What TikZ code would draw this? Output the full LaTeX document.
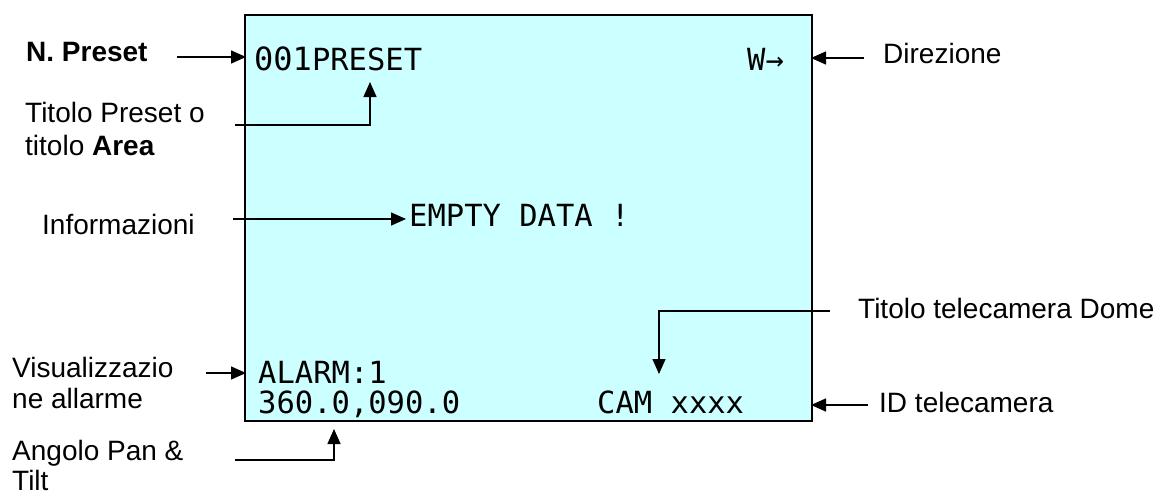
\documentclass[tikz,border=0pt]{standalone}
\usepackage{fontspec}
\setmainfont{Liberation Sans}
\newfontfamily\screenfont{DejaVu Sans Mono}
\usetikzlibrary{arrows.meta}
\definecolor{screen}{HTML}{CCFFFF}
\begin{document}
\begin{tikzpicture}[x=1pt,y=-1pt,
  lbl/.style={anchor=base west,inner sep=0pt,font=\fontsize{28}{33}\selectfont},
  scr/.style={anchor=base west,inner sep=0pt,font=\screenfont\fontsize{30.5}{34}\selectfont},
  conn/.style={line width=1.5pt,-{Triangle[length=15pt,width=13pt]}}]
\useasboundingbox (0,0) rectangle (1159,496);
% screen box
\draw[fill=screen,line width=2.5pt] (245,15) rectangle (812,421);
% screen texts
\node[scr] (t001) at (254,70) {{\fontsize{32}{34}\selectfont 001}PRESET};
\node[scr] (tdir) at (747,70) {W→};
\node[scr] (tempty) at (409,226) {EMPTY DATA !};
\node[scr] (talarm) at (258,383) {ALARM:1};
\node[scr] (tpan) at (258,413) {360.0,090.0};
\node[scr] (tcam) at (597,413) {CAM xxxx};
% labels
\node[lbl] (lnpreset) at (26,61) {\bfseries N. Preset};
\node[lbl] (ltit1) at (25,122) {Titolo Preset o};
\node[lbl] (ltit2) at (25,155) {titolo \textbf{Area}};
\node[lbl] (linfo) at (42,234) {Informazioni};
\node[lbl] (lvis1) at (12,377) {Visualizzazio};
\node[lbl] (lvis2) at (12,408) {ne allarme};
\node[lbl] (lang1) at (12,460) {Angolo Pan \&};
\node[lbl] (lang2) at (12,490) {Tilt};
\node[lbl] (ldir) at (883,63) {Direzione};
\node[lbl] (ldome) at (858,318) {Titolo telecamera Dome};
\node[lbl] (lid) at (879,412) {ID telecamera};
% connector end points
\coordinate (a1s) at (177,57);  \coordinate (a1e) at (246,57);
\coordinate (a2s) at (235,125); \coordinate (a2c) at (370,125); \coordinate (a2e) at (370,82);
\coordinate (a3s) at (233,219); \coordinate (a3e) at (406,219);
\coordinate (a4s) at (206,373); \coordinate (a4e) at (246,373);
\coordinate (a5s) at (235,460); \coordinate (a5c) at (334,460); \coordinate (a5e) at (334,429);
\coordinate (a6s) at (864,58);  \coordinate (a6e) at (811,58);
\coordinate (a7s) at (830,311); \coordinate (a7c) at (659,311); \coordinate (a7e) at (659,374);
\coordinate (a8s) at (868,405); \coordinate (a8e) at (811,405);
% connectors
\draw[conn] (a1s) -- (a1e);
\draw[conn] (a2s) -- (a2c) -- (a2e);
\draw[conn] (a3s) -- (a3e);
\draw[conn] (a4s) -- (a4e);
\draw[conn] (a5s) -- (a5c) -- (a5e);
\draw[conn] (a6s) -- (a6e);
\draw[conn] (a7s) -- (a7c) -- (a7e);
\draw[conn] (a8s) -- (a8e);
\end{tikzpicture}
\end{document}
